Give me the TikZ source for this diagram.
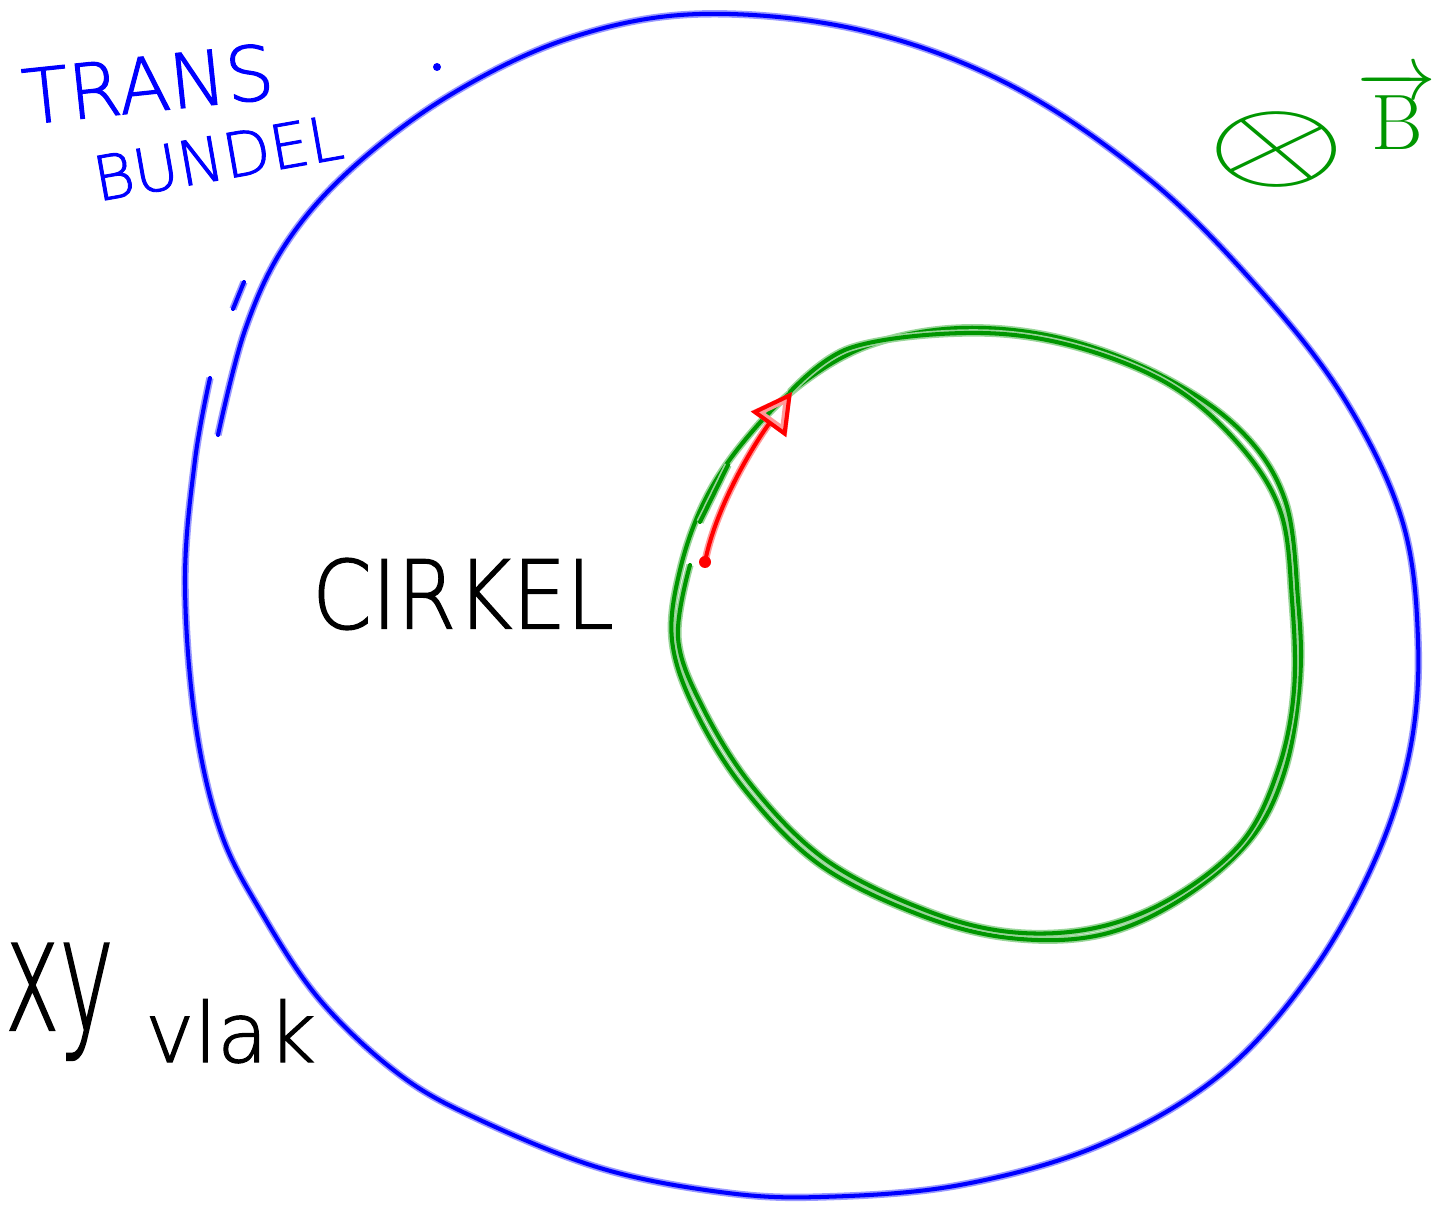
\documentclass[tikz,border=0pt]{standalone}
\usepackage{fontspec}
\newfontfamily\handfont[FakeBold=1.5]{DejaVu Sans ExtraLight}
\usetikzlibrary{arrows.meta,positioning}
\definecolor{penblue}{RGB}{0,0,255}
\definecolor{pengreen}{RGB}{0,150,0}
\definecolor{penred}{RGB}{255,0,0}

\begin{document}
\begin{tikzpicture}[
    x=0.02cm, y=-0.02cm,
    pen/.style={draw=#1, line width=2.3pt, line cap=round, line join=round,
                preaction={draw=#1!40, line width=4.2pt}},
    hand/.style={inner sep=0pt, text=#1},
    arr/.style={-{Triangle[open, length=0.8cm, width=0.85cm]}}
]
    \useasboundingbox (0,0) rectangle (1434,1212);

    % Outer loop (transport bundle)
    \draw[pen=penblue] plot[smooth, tension=0.6] coordinates {
        (210,378) (195,460) (185,580) (195,720) (220,830) (260,910)
        (320,1000) (400,1075) (480,1120) (600,1168) (720,1192) (820,1197)
        (960,1185) (1100,1145) (1220,1075) (1310,975) (1375,860)
        (1410,750) (1418,640) (1402,520) (1345,400) (1260,290)
        (1150,180) (1010,85) (860,30) (700,14) (570,38) (450,95)
        (350,170) (285,245) (245,330) (218,435)};
    \draw[pen=penblue] (244,282) -- (233,309);
    \fill[penblue] (437,67) circle (4);

    % Inner circle
    \draw[pen=pengreen] plot[smooth cycle, tension=0.6] coordinates {
        (960,328) (1060,338) (1160,375) (1240,430) (1285,500) (1298,600)
        (1300,680) (1285,770) (1250,840) (1180,900) (1100,935) (1010,938)
        (920,915) (820,865) (745,790) (695,710) (672,640) (680,570)
        (705,500) (745,440) (800,385) (870,345)};
    \draw[pen=pengreen] plot[smooth, tension=0.6] coordinates {
        (790,392) (850,348) (965,333) (1065,344) (1165,382) (1235,440)
        (1280,510) (1292,600) (1294,690) (1278,770) (1242,842)
        (1172,898) (1095,928) (1010,932) (925,910) (826,860)
        (752,786) (702,706) (678,638) (690,565)};
    \draw[pen=pengreen] (728,465) -- (700,522);

    % Orientation arrow
    \coordinate (tail) at (705,562);
    \coordinate (tip) at (792,392);
    \draw[pen=penred, arr] (tail) .. controls (715,510) and (750,450) .. (tip);
    \fill[penred] (tail) circle (6);

    % Labels
    \node[hand=penblue, rotate=6, font=\handfont\fontsize{43pt}{43pt}\selectfont]
        (trans) at (148,84) {TRANS};
    \node[hand=penblue, rotate=10, font=\handfont\fontsize{35pt}{35pt}\selectfont]
        (bundel) at (218,158) {BUNDEL};
    \node[hand=black, xscale=0.9, font=\handfont\fontsize{54pt}{54pt}\selectfont]
        (cirkel) at (463,594) {CIRKEL};
    \node[hand=black, anchor=base west, xscale=0.58,
          font=\handfont\fontsize{90pt}{90pt}\selectfont]
        (xy) at (5,1030) {xy};
    \node[hand=black, anchor=base west, font=\handfont\fontsize{47pt}{47pt}\selectfont]
        (vlak) at (145,1062) {vlak};
    \node[hand=pengreen, xscale=4.1, yscale=2.6, rotate=-8, font=\Huge]
        (into) at (1277,150) {$\otimes$};
    \node[hand=pengreen, scale=1.8, font=\Huge]
        (field) at (1397,110) {$\overrightarrow{\mathrm{B}}$};
\end{tikzpicture}
\end{document}
